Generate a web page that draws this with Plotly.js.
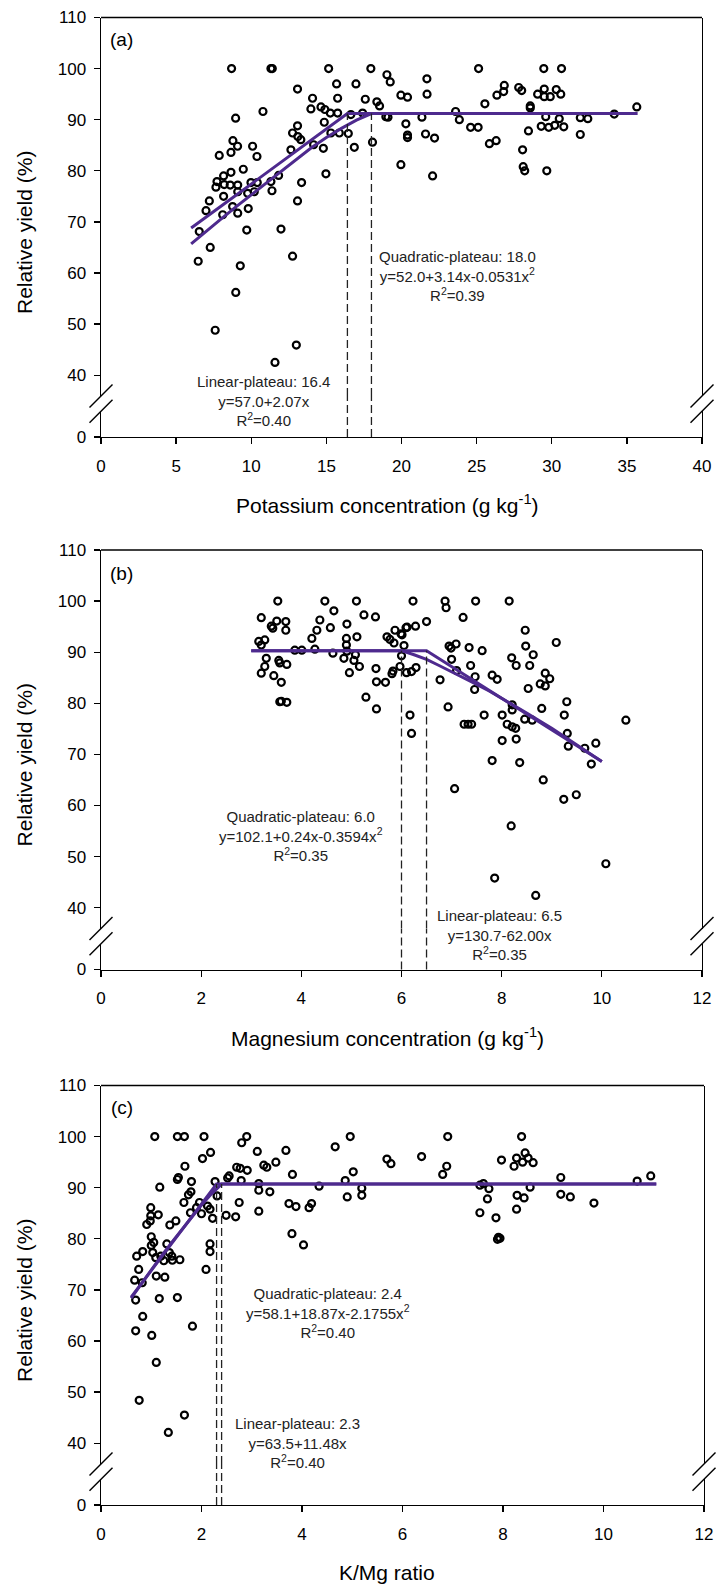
<!DOCTYPE html>
<html>
<head>
<meta charset="utf-8">
<script src="https://cdn.plot.ly/plotly-3.0.1.min.js"></script>
<style>
  html, body { margin: 0; padding: 0; background: #fff; }
  #chart { width: 716px; height: 1587px; }
</style>
</head>
<body>
<div id="chart"></div>
<script>
// ---------- (a) relative yield vs potassium concentration ----------
const kConc = [8.69,11.31,11.4,15.15,17.96,19.03,19.25,15.68,16.97,13.08,14.08,15.75,17.59,18.36,18.54,19.96,20.4,
  10.78,8.96,13.97,14.64,14.9,15.26,15.75,16.63,17.41,18.96,20.29,20.4,20.4,13.08,12.75,13.1,13.3,12.64,14.86,15.3,
  15.86,16.46,16.86,18.07,14.15,14.8,19.96,14.97,8.78,9.09,8.65,7.87,10.09,10.38,9.47,8.65,8.16,7.72,7.65,8.2,8.6,
  9.1,9.1,9.98,10.4,10.2,9.76,11.31,11.82,11.38,13.35,13.08,7.21,8.16,6.99,8.1,8.76,9.1,9.8,9.7,11.98,6.54,7.27,
  12.75,6.47,21.69,21.7,25.13,25.55,26.35,26.84,26.8,27.8,28.0,29.06,29.5,29.5,29.9,30.3,30.6,29.47,30.65,28.57,
  28.57,23.6,23.85,21.36,19.1,21.6,22.2,24.6,25.1,25.85,26.3,29.6,30.5,31.9,32.4,34.16,35.66,29.3,29.8,30.2,30.8,
  31.9,28.45,28.06,28.1,28.2,29.67,22.07,9.27,8.97,7.6,13.0,11.58];
const kYield = [100,100,100,100,100,98.8,97.4,97.0,97.0,96.0,94.2,94.2,94.0,93.5,92.7,94.8,94.4,
  91.6,90.3,92.1,92.5,92.0,91.3,91.3,91.0,91.3,90.6,89.2,87.0,86.5,88.8,87.4,86.7,86.1,84.1,89.5,87.4,
  87.4,87.3,84.6,85.6,85.1,84.4,81.2,79.4,85.9,84.8,83.6,83.0,84.8,82.8,80.3,79.7,79.0,77.9,76.8,77.3,77.2,
  77.2,75.9,77.7,77.7,75.9,75.6,77.9,79.1,76.1,77.7,74.1,74.1,75.0,72.2,71.4,73.0,71.7,72.6,68.4,68.6,68.1,65.0,
  63.3,62.3,98.0,95.0,100,93.1,94.8,96.7,95.5,96.3,95.7,95.0,96.0,94.5,94.5,95.9,95.0,100,100,92.7,
  92.3,91.6,90.0,90.5,90.5,87.2,86.4,88.5,88.5,85.3,85.9,90.6,90.2,90.4,90.2,91.1,92.5,88.7,88.5,88.9,88.6,
  87.1,87.8,84.1,80.8,80.0,80.0,79.0,61.4,56.2,48.8,45.9,42.5];
const kLinearX = [6.0, 16.4, 35.7];
const kLinearY = [68.8, 91.2, 91.2];
const kQuadX = [6, 7, 8, 9, 10, 11, 12, 13, 14, 15, 16, 17, 18.0, 35.7];
const kQuadY = [65.7, 68.2, 70.6, 73.0, 75.3, 77.7, 80.0, 82.3, 84.5, 86.5, 88.3, 89.9, 91.2, 91.2];
const kJoints = [16.4, 18.0];
const kPlateau = 91.2;

// ---------- (b) relative yield vs magnesium concentration ----------
const mgConc = [3.53,4.47,5.1,6.23,3.2,3.4,3.51,3.69,3.69,3.43,4.65,4.37,4.58,4.31,4.21,4.91,5.25,5.48,5.11,4.9,4.9,
  4.91,4.85,5.05,5.08,5.16,4.96,4.63,4.27,3.15,3.27,3.2,3.3,3.55,3.57,3.71,3.27,3.2,3.45,3.6,3.57,3.6,3.71,3.87,
  4.01,5.49,5.5,5.68,5.81,5.83,5.29,5.5,5.77,5.87,5.85,5.99,6.09,5.97,6.0,6.05,6.1,6.17,6.2,6.87,6.89,7.48,8.15,
  7.23,6.5,6.28,6.11,6.01,5.71,6.2,6.29,6.95,6.99,7.09,7.35,7.61,7.0,7.1,7.38,7.47,7.46,6.77,6.93,7.25,7.33,7.4,
  7.65,7.81,7.91,8.2,8.29,8.47,8.48,8.63,8.56,9.09,8.87,8.96,8.77,8.87,8.53,8.21,8.21,8.01,8.11,8.21,8.28,8.46,
  8.61,8.8,9.3,9.25,9.31,9.33,9.66,9.88,9.79,10.48,8.01,8.29,7.81,8.36,8.83,7.06,9.24,9.49,8.19,7.86,8.68,10.08];
const mgYield = [100,100,100,100,96.75,95.1,96.1,96.0,94.3,94.7,98.1,96.3,94.8,94.3,92.7,95.5,97.3,96.9,93.0,92.7,91.4,
  90.2,88.8,88.4,89.5,87.2,86.0,89.8,90.6,92.1,92.4,91.4,88.8,88.4,87.9,87.6,87.2,85.9,85.4,84.1,80.3,80.4,80.2,90.4,
  90.4,86.8,84.2,84.1,85.8,86.3,81.2,78.9,92.5,94.3,91.8,93.6,94.8,87.2,89.3,91.3,86.0,77.7,74.1,100,98.7,100,100,
  96.8,96.0,95.1,94.9,93.4,93.0,86.2,87.0,91.2,90.8,91.6,90.9,90.3,88.6,86.4,87.4,85.2,82.7,84.6,79.3,75.9,75.9,75.9,
  77.7,85.5,84.7,88.9,87.4,94.3,91.2,89.5,87.4,91.9,85.9,84.8,83.8,83.4,82.9,79.7,78.7,77.7,75.9,75.4,75.1,76.9,
  76.7,79.0,80.3,77.7,74.1,71.6,71.2,72.2,68.1,76.7,72.7,73.0,68.8,68.4,65.0,63.3,61.2,62.1,56.0,45.8,42.4,48.6];
const mgLinearX = [3.0, 6.5, 10.0];
const mgLinearY = [90.3, 90.3, 68.6];
const mgQuadX = [3.0, 6.0, 6.25, 6.5, 6.75, 7.0, 7.25, 7.5, 7.75, 8.0, 8.5, 9.0, 9.5, 10.0];
const mgQuadY = [90.3, 90.3, 89.5, 88.6, 87.4, 86.2, 85.0, 83.7, 82.4, 81.0, 78.1, 75.1, 71.9, 68.6];
const mgJoints = [6.0, 6.5];
const mgPlateau = 90.3;

// ---------- (c) relative yield vs K/Mg ratio ----------
const ratio = [1.07,1.52,1.66,2.05,2.8,2.9,3.11,3.68,4.66,4.96,2.18,2.02,1.67,2.7,2.77,2.91,3.24,3.3,3.48,3.81,5.02,
  4.86,1.54,1.52,1.8,1.17,2.27,2.55,2.52,2.79,3.14,3.14,3.36,4.34,4.9,5.19,5.19,1.79,1.74,1.65,1.96,1.9,1.78,2.0,
  2.12,2.17,2.22,2.31,2.75,2.49,2.68,3.14,3.74,3.88,4.14,4.19,3.8,4.03,0.99,1.14,0.99,0.91,0.98,1.37,1.49,1.0,1.05,
  1.0,1.31,1.36,1.41,0.71,0.83,1.03,1.09,1.19,1.25,1.42,1.57,0.75,0.67,0.82,1.1,1.27,2.09,2.17,2.17,0.69,1.16,1.52,
  0.83,0.69,1.82,1.01,1.1,0.76,1.66,1.34,5.69,5.77,6.38,6.9,6.88,6.8,8.37,7.97,8.27,8.22,8.44,8.5,8.6,8.39,7.54,
  7.61,7.72,7.69,7.54,7.86,7.89,7.94,7.91,8.28,8.42,8.27,8.54,9.15,9.15,9.34,9.81,10.67,10.94];
const ratioYield = [100,100,100,100,98.8,100,97.1,97.3,98.0,100,96.9,95.7,94.2,94.0,93.8,93.4,94.4,94.0,95.0,92.6,93.1,
  91.4,92.0,91.6,91.2,90.1,91.2,92.3,91.9,91.4,90.8,89.5,89.2,90.3,88.2,89.9,88.5,89.2,88.6,87.1,87.1,86.1,85.1,84.9,
  86.4,85.8,84.0,88.4,87.1,84.6,84.3,85.4,86.9,86.3,86.1,86.9,81.0,78.8,86.1,84.7,84.5,82.8,83.5,82.7,83.5,80.4,79.3,
  78.7,79.0,77.3,76.6,76.6,77.5,77.3,76.3,76.6,75.7,75.8,75.9,74.0,71.9,71.4,72.7,72.5,74.0,79.0,77.5,68.0,68.3,68.5,
  64.8,62.0,62.9,61.1,55.8,48.4,45.5,42.1,95.6,94.7,96.1,100,94.2,92.6,100,95.4,95.8,94.2,96.8,95.8,94.9,95.0,90.5,
  90.8,89.8,87.8,85.1,84.1,79.9,80.1,80.3,88.5,88.0,85.8,90.1,92.0,88.7,88.2,87.0,91.3,92.3];
const ratioLinearX = [0.6, 2.3, 11.05];
const ratioLinearY = [68.6, 90.7, 90.7];
const ratioQuadX = [0.6, 0.8, 1.0, 1.2, 1.4, 1.6, 1.8, 2.0, 2.2, 2.4, 11.05];
const ratioQuadY = [68.4, 71.2, 73.9, 76.6, 79.2, 81.7, 84.2, 86.6, 88.8, 90.7, 90.7];
const ratioJoints = [2.3, 2.4];
const ratioPlateau = 90.7;

// ---------- text ----------
const panelLetters = ['(a)', '(b)', '(c)'];
const xTitles = ['Potassium concentration (g kg<sup>-1</sup>)', 'Magnesium concentration (g kg<sup>-1</sup>)', 'K/Mg ratio'];
const yTitle = 'Relative yield (%)';
const quadNotes = [
  'Quadratic-plateau: 18.0<br>y=52.0+3.14x-0.0531x<sup>2</sup><br>R<sup>2</sup>=0.39',
  'Quadratic-plateau: 6.0<br>y=102.1+0.24x-0.3594x<sup>2</sup><br>R<sup>2</sup>=0.35',
  'Quadratic-plateau: 2.4<br>y=58.1+18.87x-2.1755x<sup>2</sup><br>R<sup>2</sup>=0.40'
];
const linNotes = [
  'Linear-plateau: 16.4<br>y=57.0+2.07x<br>R<sup>2</sup>=0.40',
  'Linear-plateau: 6.5<br>y=130.7-62.00x<br>R<sup>2</sup>=0.35',
  'Linear-plateau: 2.3<br>y=63.5+11.48x<br>R<sup>2</sup>=0.40'
];
const upperTicks = [40, 50, 60, 70, 80, 90, 100, 110];
const xTickSets = [[0, 5, 10, 15, 20, 25, 30, 35, 40], [0, 2, 4, 6, 8, 10, 12], [0, 2, 4, 6, 8, 10, 12]];
const xRanges = [[0, 40], [0, 12], [0, 12]];

// ---------- layout geometry (pixels on the 716 x 1587 page) ----------
const PAGE_W = 716, PAGE_H = 1587;
const PX_PER_UNIT = 5.11;        // vertical pixels per 1 % yield
const UPPER_H = 378.5;           // frame top down to the axis break
const GAP_H = 15.3;              // break gap
const LOWER_H = 25.7;            // short segment that carries the 0 tick
const panelTop = [17.5, 550, 1085.5];
const panelLeft = [101, 101, 101];
const panelRight = [702, 702, 704];
const xTitleCenter = 387;
const quadNotePos = [[457.5, 276], [301, 835.5], [328, 1313]];
const linNotePos = [[263.7, 401], [499, 935], [297, 1443]];
const letterPos = [[122, 40], [122, 573], [122, 1107]];

const px2py = fy => 1 - fy / PAGE_H;
const px2px = fx => fx / PAGE_W;

const PURPLE = '#4e2a8e';
const INK = '#000';
const FAMILY = 'Liberation Sans, Arial, sans-serif';
const tickFont = { family: FAMILY, size: 17, color: INK };
const noteFont = { family: FAMILY, size: 15, color: '#222' };
const titleFont = { family: FAMILY, size: 21, color: INK };

const panels = [
  { x: kConc, y: kYield, lx: kLinearX, ly: kLinearY, qx: kQuadX, qy: kQuadY, joints: kJoints, plateau: kPlateau },
  { x: mgConc, y: mgYield, lx: mgLinearX, ly: mgLinearY, qx: mgQuadX, qy: mgQuadY, joints: mgJoints, plateau: mgPlateau },
  { x: ratio, y: ratioYield, lx: ratioLinearX, ly: ratioLinearY, qx: ratioQuadX, qy: ratioQuadY, joints: ratioJoints, plateau: ratioPlateau }
];

const traces = [];
const layout = {
  width: PAGE_W, height: PAGE_H,
  margin: { l: 0, r: 0, t: 0, b: 0 },
  paper_bgcolor: '#fff', plot_bgcolor: 'rgba(0,0,0,0)',
  showlegend: false,
  font: { family: FAMILY, color: INK },
  shapes: [], annotations: []
};

panels.forEach((p, i) => {
  const xa = i === 0 ? 'x' : 'x' + (i + 1);
  const yu = i === 0 ? 'y' : 'y' + (2 * i + 1);   // upper segment (40-110)
  const yl = 'y' + (2 * i + 2);                    // lower segment (0)
  const xKey = i === 0 ? 'xaxis' : 'xaxis' + (i + 1);
  const yuKey = i === 0 ? 'yaxis' : 'yaxis' + (2 * i + 1);
  const ylKey = 'yaxis' + (2 * i + 2);

  const T = panelTop[i];
  const upperBottom = T + UPPER_H;
  const lowerTop = upperBottom + GAP_H;
  const bottom = lowerTop + LOWER_H;
  const upperMin = 110 - UPPER_H / PX_PER_UNIT;

  layout[xKey] = {
    domain: [px2px(panelLeft[i]), px2px(panelRight[i])],
    range: xRanges[i], anchor: yl,
    tickmode: 'array', tickvals: xTickSets[i],
    ticks: 'outside', ticklen: 6, tickwidth: 1.3, tickcolor: INK,
    ticklabelstandoff: 7,
    showline: true, linewidth: 1.4, linecolor: INK,
    showgrid: false, zeroline: false, tickfont: tickFont
  };
  layout[yuKey] = {
    domain: [px2py(upperBottom), px2py(T)],
    range: [upperMin, 110], anchor: xa,
    tickmode: 'array', tickvals: upperTicks,
    ticks: 'outside', ticklen: 6, tickwidth: 1.3, tickcolor: INK,
    ticklabelstandoff: 4,
    showline: true, mirror: true, linewidth: 1.4, linecolor: INK,
    showgrid: false, zeroline: false, tickfont: tickFont
  };
  layout[ylKey] = {
    domain: [px2py(bottom), px2py(lowerTop)],
    range: [0, LOWER_H / PX_PER_UNIT], anchor: xa,
    tickmode: 'array', tickvals: [0],
    ticks: 'outside', ticklen: 6, tickwidth: 1.3, tickcolor: INK,
    ticklabelstandoff: 4,
    showline: true, mirror: true, linewidth: 1.4, linecolor: INK,
    showgrid: false, zeroline: false, tickfont: tickFont
  };

  // empty trace so the short lower segment becomes a real subplot
  traces.push({ type: 'scatter', mode: 'markers', x: [], y: [], xaxis: xa, yaxis: yl, hoverinfo: 'skip' });

  // observations
  traces.push({
    type: 'scatter', mode: 'markers', x: p.x, y: p.y, xaxis: xa, yaxis: yu,
    marker: { symbol: 'circle-open', size: 7, color: INK, line: { width: 2.2, color: INK } },
    hoverinfo: 'x+y'
  });
  // fitted plateau models
  traces.push({
    type: 'scatter', mode: 'lines', x: p.qx, y: p.qy, xaxis: xa, yaxis: yu,
    line: { color: PURPLE, width: 3 }, hoverinfo: 'skip'
  });
  traces.push({
    type: 'scatter', mode: 'lines', x: p.lx, y: p.ly, xaxis: xa, yaxis: yu,
    line: { color: PURPLE, width: 3 }, hoverinfo: 'skip'
  });

  // top edge of the frame
  layout.shapes.push({
    type: 'line', xref: xa + ' domain', yref: yu + ' domain',
    x0: 0, x1: 1, y0: 1, y1: 1, line: { color: INK, width: 1.4 }
  });

  // axis-break marks on both sides
  [0, 1].forEach(side => {
    [upperBottom, lowerTop].forEach(cy => {
      layout.shapes.push({
        type: 'line', xref: xa + ' domain', yref: 'paper',
        xsizemode: 'pixel', xanchor: side, x0: -11.5, x1: 11.5,
        ysizemode: 'pixel', yanchor: px2py(cy), y0: -11.5, y1: 11.5,
        line: { color: INK, width: 1.4 }
      });
    });
  });

  // dashed markers at the joint points, running from the x axis to the plateau
  p.joints.forEach(jx => {
    const dash = { color: '#222', width: 1.3, dash: '8px,4px' };
    layout.shapes.push({
      type: 'line', xref: xa, yref: yu, x0: jx, x1: jx, y0: upperMin, y1: p.plateau, line: dash
    });
    layout.shapes.push({
      type: 'line', xref: xa, yref: 'paper', x0: jx, x1: jx,
      y0: px2py(bottom), y1: px2py(upperBottom), line: dash
    });
  });

  // labels
  layout.annotations.push({
    xref: 'paper', yref: 'paper', x: px2px(letterPos[i][0]), y: px2py(letterPos[i][1]),
    text: panelLetters[i], showarrow: false, xanchor: 'center', yanchor: 'middle',
    font: { family: FAMILY, size: 19, color: INK }
  });
  layout.annotations.push({
    xref: 'paper', yref: 'paper', x: px2px(quadNotePos[i][0]), y: px2py(quadNotePos[i][1]),
    text: quadNotes[i], showarrow: false, align: 'center', xanchor: 'center', yanchor: 'middle', font: noteFont
  });
  layout.annotations.push({
    xref: 'paper', yref: 'paper', x: px2px(linNotePos[i][0]), y: px2py(linNotePos[i][1]),
    text: linNotes[i], showarrow: false, align: 'center', xanchor: 'center', yanchor: 'middle', font: noteFont
  });
  layout.annotations.push({
    xref: 'paper', yref: 'paper', x: px2px(xTitleCenter), y: px2py(T + 486.5),
    text: xTitles[i], showarrow: false, xanchor: 'center', yanchor: 'middle', font: titleFont
  });
  layout.annotations.push({
    xref: 'paper', yref: 'paper', x: px2px(24), y: px2py(T + 215.5),
    text: yTitle, textangle: -90, showarrow: false, xanchor: 'center', yanchor: 'middle', font: titleFont
  });
});

Plotly.newPlot('chart', traces, layout, { staticPlot: true, displayModeBar: false });
</script>
</body>
</html>
